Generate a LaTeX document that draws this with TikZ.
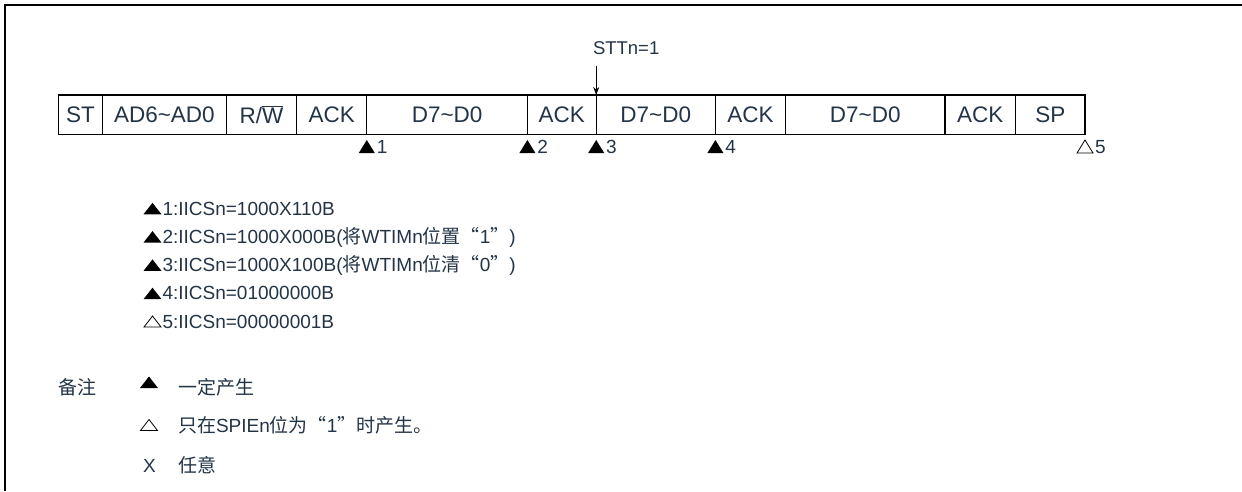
\documentclass[tikz,border=0pt]{standalone}
\usepackage{fontspec}
\setmainfont{Liberation Sans}
\newfontfamily\cjk{Noto Sans CJK SC}
\newfontfamily\cjkq[RawFeature=+fwid]{Noto Sans CJK SC}
\usetikzlibrary{arrows.meta}
\definecolor{txt}{HTML}{233446}
\newcommand\myLQ{{\cjkq “}}
\newcommand\myRQ{{\cjkq ”}}
\begin{document}
\begin{tikzpicture}[x=1pt,y=-1pt,
  cell/.style={draw=black,line width=1.1pt,minimum height=39.5pt,inner sep=0pt,outer sep=0pt,
    text=txt,font=\fontsize{22.5}{26}\selectfont,anchor=west},
  lbl/.style={anchor=base west,inner sep=0pt,outer sep=0pt,text=txt,font=\fontsize{19}{22}\selectfont},
  dig/.style={anchor=west,inner sep=0pt,outer sep=0pt,text=txt,font=\fontsize{19}{22}\selectfont},
  arr/.style={-{Stealth[length=8pt,width=6pt]},line width=0.9pt,black},
  mfill/.pic={\fill[black] (-8,18.5) -- (8,18.5) -- (0,5.5) -- cycle;},
  mopen/.pic={\draw[black,line width=0.8pt] (-8,18.5) -- (8,18.5) -- (0,5.5) -- cycle;},
  lfill/.pic={\fill[black] (-9,6) -- (9,6) -- (0,-5.5) -- cycle;},
  lopen/.pic={\draw[black,line width=0.8pt] (-8.5,5.5) -- (8.5,5.5) -- (0,-5.5) -- cycle;}
]
\useasboundingbox (0,0) rectangle (1242,491);
% frame
\draw[line width=1.3pt,black] (1242,5) -- (5,5) -- (5,491);

% frame cells
\node[cell,minimum width=44.1pt] (st) at (58.4,114.75) {ST};
\node[cell,minimum width=123.8pt] (ad) at (st.east) {AD6\textasciitilde AD0};
\node[cell,minimum width=70.6pt] (rw) at (ad.east) {R/$\overline{\hbox{W}}$};
\node[cell,minimum width=69.9pt] (ack1) at (rw.east) {ACK};
\node[cell,minimum width=160.6pt] (d1) at (ack1.east) {D7\textasciitilde D0};
\node[cell,minimum width=68.8pt] (ack2) at (d1.east) {ACK};
\node[cell,minimum width=119.2pt] (d2) at (ack2.east) {D7\textasciitilde D0};
\node[cell,minimum width=70pt] (ack3) at (d2.east) {ACK};
\node[cell,minimum width=159.6pt] (d3) at (ack3.east) {D7\textasciitilde D0};
\node[cell,minimum width=70.5pt] (ack4) at (d3.east) {ACK};
\node[cell,minimum width=69.5pt] (sp) at (ack4.east) {SP};

% STTn=1 arrow
\node[dig,font=\fontsize{18.5}{22}\selectfont] (stt) at (593,48) {STTn=1};
\draw[arr] ([yshift=-11pt]stt.south -| d2.north west) -- (d2.north west);

% markers
\pic at (d1.south west) {mfill};
\node[dig] (m1) at ([xshift=10pt,yshift=-12.5pt]d1.south west) {1};
\pic at (ack2.south west) {mfill};
\node[dig] (m2) at ([xshift=10pt,yshift=-12.5pt]ack2.south west) {2};
\pic at (d2.south west) {mfill};
\node[dig] (m3) at ([xshift=10pt,yshift=-12.5pt]d2.south west) {3};
\pic at (ack3.south west) {mfill};
\node[dig] (m4) at ([xshift=10pt,yshift=-12.5pt]ack3.south west) {4};
\pic at (sp.south east) {mopen};
\node[dig] (m5) at ([xshift=10pt,yshift=-12.5pt]sp.south east) {5};

% list
\pic at (152.5,208.3) {lfill};
\node[lbl] (l1) at (162.5,215) {1:IICSn=1000X110B};
\pic at (152.5,236.6) {lfill};
\node[lbl] (l2) at (162.5,243.3) {2:IICSn=1000X000B({\cjk 将}WTIMn{\cjk 位置}\myLQ 1\myRQ)};
\pic at (152.5,264.9) {lfill};
\node[lbl] (l3) at (162.5,271.6) {3:IICSn=1000X100B({\cjk 将}WTIMn{\cjk 位清}\myLQ 0\myRQ)};
\pic at (152.5,293.2) {lfill};
\node[lbl] (l4) at (162.5,299.9) {4:IICSn=01000000B};
\pic at (152.5,321.5) {lopen};
\node[lbl] (l5) at (162.5,328.2) {5:IICSn=00000001B};

% legend
\node[lbl] (bz) at (58,394) {\cjk 备注};
\pic at (149,382) {lfill};
\node[lbl] (g1) at (178,394) {\cjk 一定产生};
\pic at (149,425) {lopen};
\node[lbl] (g2) at (178,432) {{\cjk 只在}SPIEn{\cjk 位为}\myLQ 1\myRQ{\cjk 时产生。}};
\node[lbl] (gx) at (143,472) {X};
\node[lbl] (g3) at (178,472) {\cjk 任意};
\end{tikzpicture}
\end{document}
